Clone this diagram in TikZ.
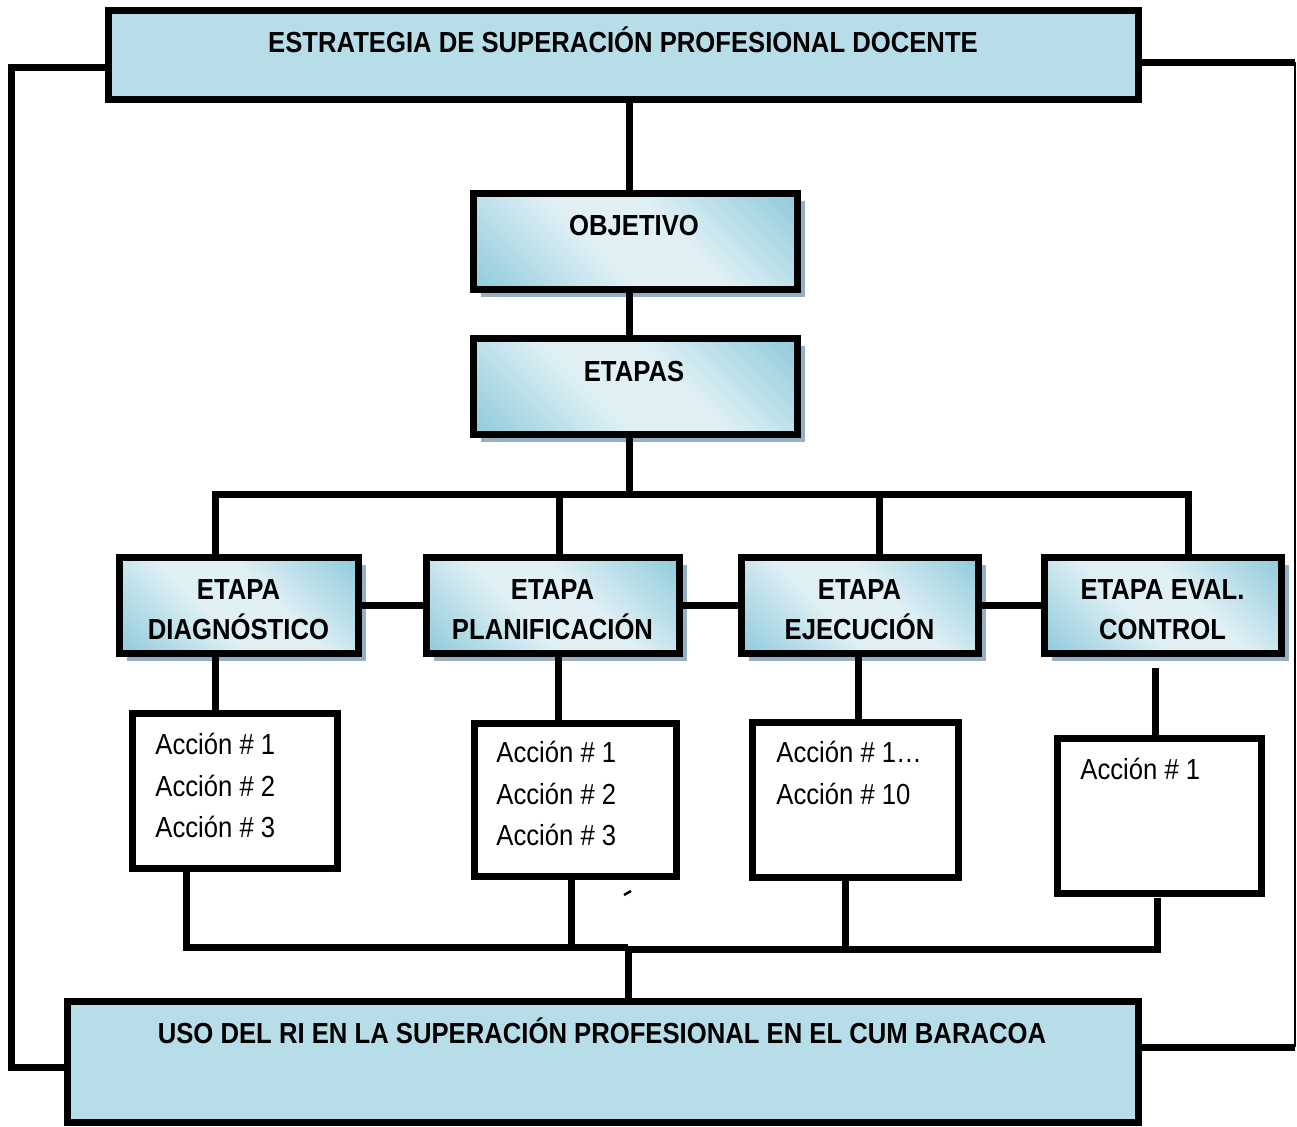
\documentclass[tikz,border=0pt]{standalone}
\usepackage{fontspec}
\setmainfont{Liberation Sans}[FakeStretch=0.885]
\usetikzlibrary{shadows}
\definecolor{flatblue}{RGB}{183,221,232}
\definecolor{gdark}{RGB}{146,204,220}
\definecolor{glight}{RGB}{224,240,245}
\definecolor{shadowc}{RGB}{150,175,195}
\pgfdeclarehorizontalshading{stageshade}{100bp}{color(0bp)=(gdark); color(16bp)=(gdark); color(42bp)=(glight); color(58bp)=(glight); color(84bp)=(gdark); color(100bp)=(gdark)}
\newcommand{\firststrut}{\rule{0pt}{14.6pt}}
\begin{document}
\begin{tikzpicture}[x=0.5pt,y=-0.5pt,
  sz/.style 2 args={minimum width=#1*0.5pt, minimum height=#2*0.5pt},
  box/.style={draw=black, line width=3.5pt, inner sep=0pt, outer sep=0pt},
  flatbox/.style={box, fill=flatblue},
  gradbox/.style={box, shading=stageshade, shading angle=45,
    drop shadow={shadow xshift=4pt, shadow yshift=-4pt, fill=shadowc, opacity=1},
    font=\bfseries\fontsize{14.5pt}{20pt}\selectfont, align=center},
  actbox/.style={box, fill=white},
  title/.style={font=\bfseries\fontsize{14.5pt}{20pt}\selectfont, inner sep=0pt, anchor=base},
  acttext/.style={font=\fontsize{14.5pt}{20.75pt}\selectfont, align=left, anchor=north west, inner sep=0pt},
  conn/.style={line width=3.5pt},
  thinconn/.style={line width=1pt}
]
\useasboundingbox[fill=white] (0,0) rectangle (1297,1126);

% main boxes
\node[flatbox, sz={1030}{89}] (top) at (623,54.5) {};
\node[title] (toptext) at (623,52) {ESTRATEGIA DE SUPERACIÓN PROFESIONAL DOCENTE};
\node[gradbox, sz={324}{96}] (obj) at (635,241) {};
\node[title] (objtext) at (634,235) {OBJETIVO};
\node[gradbox, sz={324}{96}] (eta) at (635,386) {};
\node[title] (etatext) at (634,381) {ETAPAS};

% stages
\node[gradbox, sz={239}{96}] (d1) at (238.5,605) {\firststrut ETAPA\\DIAGNÓSTICO};
\node[gradbox, sz={253}{96}] (d2) at (552.5,605) {\firststrut ETAPA\\PLANIFICACIÓN};
\node[gradbox, sz={237}{96}] (d3) at (859.5,605) {\firststrut ETAPA\\EJECUCIÓN};
\node[gradbox, sz={237}{96}] (d4) at (1162.5,605) {\firststrut ETAPA EVAL.\\CONTROL};

% actions
\node[actbox, sz={205}{155}] (a1) at (234.5,790.5) {};
\node[acttext] (a1t) at (155,733) {Acción \# 1\\Acción \# 2\\Acción \# 3};
\node[actbox, sz={202}{153}] (a2) at (575,799.5) {};
\node[acttext] (a2t) at (496,741) {Acción \# 1\\Acción \# 2\\Acción \# 3};
\node[actbox, sz={206}{155}] (a3) at (855,799.5) {};
\node[acttext] (a3t) at (776,741) {Acción \# 1…\\Acción \# 10};
\node[actbox, sz={204}{155}] (a4) at (1159,815.5) {};
\node[acttext] (a4t) at (1080,758) {Acción \# 1};

% bottom box
\node[flatbox, sz={1071}{121}] (bot) at (602.5,1061.5) {};
\node[title] (bottext) at (602,1043) {USO DEL RI EN LA SUPERACIÓN PROFESIONAL EN EL CUM BARACOA};

% helper coordinates
\coordinate (spine) at (629,494);
\coordinate (b1) at (215,494);
\coordinate (b2) at (559,494);
\coordinate (b3) at (879,494);
\coordinate (b4) at (1188,494);
\coordinate (s1) at (215,0);
\coordinate (s2) at (558,0);
\coordinate (s3) at (858,0);
\coordinate (s4) at (1155,668);
\coordinate (m) at (628,947);
\coordinate (mr) at (628,949);
\coordinate (e1) at (186,947);
\coordinate (e2) at (571,947);
\coordinate (e3) at (845,949);
\coordinate (e4) at (1157,949);
\coordinate (e4t) at (1157,898);
\coordinate (l1) at (11,67);
\coordinate (l2) at (11,1067);
\coordinate (r1) at (1295,62);
\coordinate (r2) at (1295,1047);

% connectors
\draw[conn] (top.south -| spine) -- (obj.north -| spine);
\draw[conn] (obj.south -| spine) -- (eta.north -| spine);
\draw[conn] (eta.south -| spine) -- (spine);
\draw[conn, line join=miter] (d1.north -| b1) -- (b1) -- (b4) -- (d4.north -| b4);
\draw[conn] (b2) -- (d2.north -| b2);
\draw[conn] (b3) -- (d3.north -| b3);
\draw[conn] (d1.east) -- (d2.west);
\draw[conn] (d2.east) -- (d3.west);
\draw[conn] (d3.east) -- (d4.west);
\draw[conn] (d1.south -| s1) -- (a1.north -| s1);
\draw[conn] (d2.south -| s2) -- (a2.north -| s2);
\draw[conn] (d3.south -| s3) -- (a3.north -| s3);
\draw[conn] (s4) -- (a4.north -| s4);
\draw[conn, line join=miter] (a1.south -| e1) -- (e1) -- (m);
\draw[conn] (a2.south -| e2) -- (e2);
\draw[conn, line join=miter] (e4t) -- (e4) -- (mr);
\draw[conn] (a3.south -| e3) -- (e3);
\draw[conn] (m) -- (bot.north -| m);
\draw[conn, line join=miter] (top.west |- l1) -- (l1) -- (l2) -- (bot.west |- l2);
\draw[conn] (top.east |- r1) -- (r1);
\draw[thinconn] (r1) -- (r2);
\draw[conn] (r2) -- (bot.east |- r2);
\draw[line width=1.2pt] (624,895) -- (631,891);
\end{tikzpicture}
\end{document}
